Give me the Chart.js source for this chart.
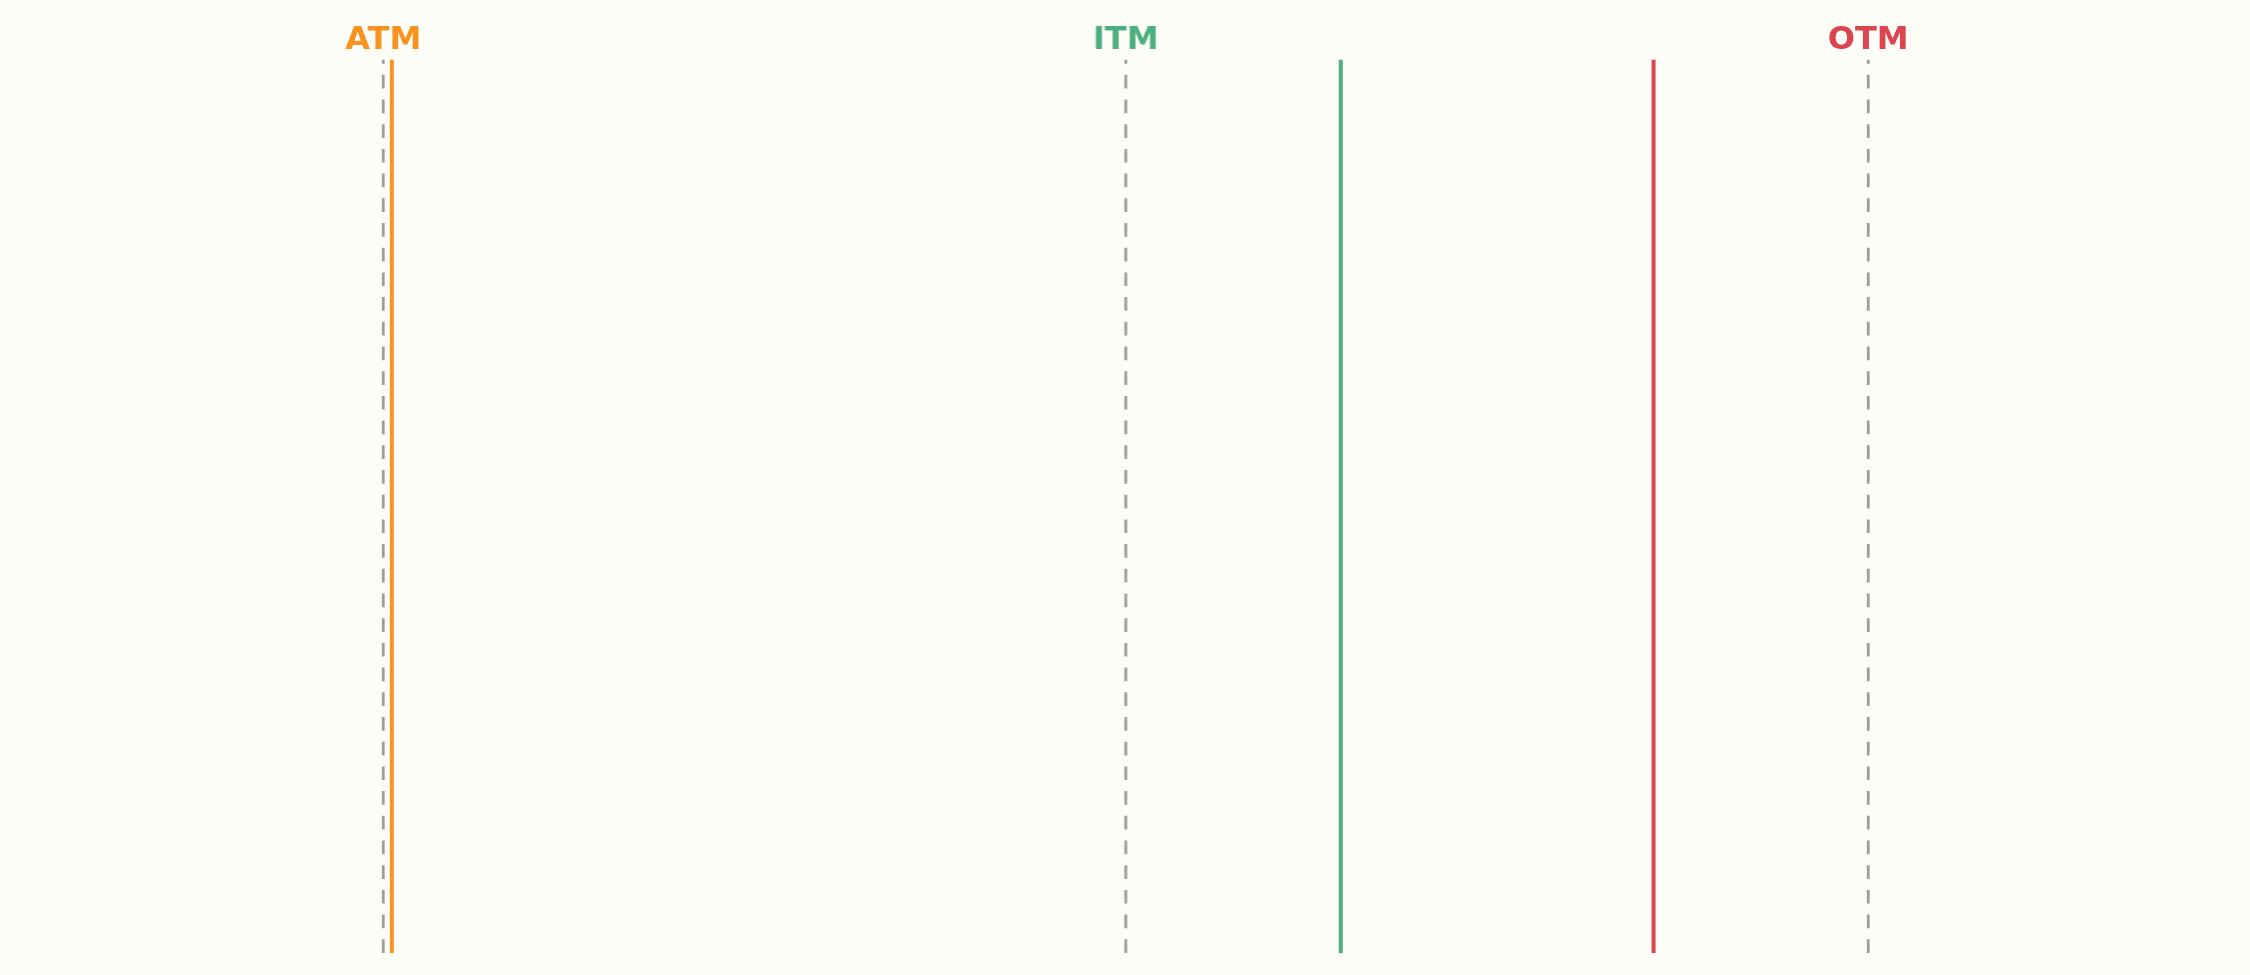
<!DOCTYPE html>
<html>
<head>
<meta charset="utf-8">
<style>
    body {
        margin: 0;
        background-color: #fdfdf8;
        overflow: hidden;
    }
    .row {
        position: absolute;
        left: 11.75px;
        top: 0;
        width: 2227.5px;
        height: 975px;
        display: flex;
    }
    .panel {
        position: relative;
        width: 742.5px;
        height: 975px;
    }
</style>
<script src="https://cdn.jsdelivr.net/npm/chart.js@4.4.1/dist/chart.umd.min.js"></script>
<script type="text/javascript">

    // one panel per moneyness case: strike (dashed) vs spot price (solid)
    var panelNames = ['ATM', 'ITM', 'OTM'];
    var strikes = [100, 100, 100];
    var spots = [100.4, 110, 90];
    var panelColors = ['#f7931e', '#4caf7d', '#dc4450'];

    var xMin = 82.8;
    var xMax = 117.2;

    function drawPanel(i)
    {
        const data = {
            datasets: [{
                label: 'Strike',
                data: [{x: strikes[i], y: 0}, {x: strikes[i], y: 1}],
                borderColor: '#9d9d9d',
                borderWidth: 2.8,
                borderDash: [13.7, 11],
                pointRadius: 0,
                fill: false
            }, {
                label: 'Spot',
                data: [{x: spots[i], y: 0}, {x: spots[i], y: 1}],
                borderColor: panelColors[i],
                borderWidth: 4,
                pointRadius: 0,
                fill: false
            }]
        };

        const config = {
            type: 'line',
            data: data,
            options: {
                responsive: true,
                maintainAspectRatio: false,
                animation: false,
                layout: {
                    padding: { top: 0, bottom: 22, left: 0, right: 0 }
                },
                plugins: {
                    title: {
                        display: true,
                        text: panelNames[i],
                        color: panelColors[i],
                        font: { family: 'DejaVu Sans', size: 32, weight: 'bold' },
                        padding: { top: 21, bottom: 0 }
                    },
                    legend: { display: false },
                    tooltip: { enabled: false }
                },
                scales: {
                    x: { type: 'linear', display: false, min: xMin, max: xMax },
                    y: { type: 'linear', display: false, min: 0, max: 1 }
                }
            }
        };
        new Chart(document.getElementById('panel' + i), config);
    }

    function drawCharts()
    {
        for (let i = 0; i < panelNames.length; i++)
            drawPanel(i);
    }
</script>
</head>
<body onload="drawCharts()">
    <div class="row">
        <div class="panel"><canvas id="panel0"></canvas></div>
        <div class="panel"><canvas id="panel1"></canvas></div>
        <div class="panel"><canvas id="panel2"></canvas></div>
    </div>
</body>
</html>
